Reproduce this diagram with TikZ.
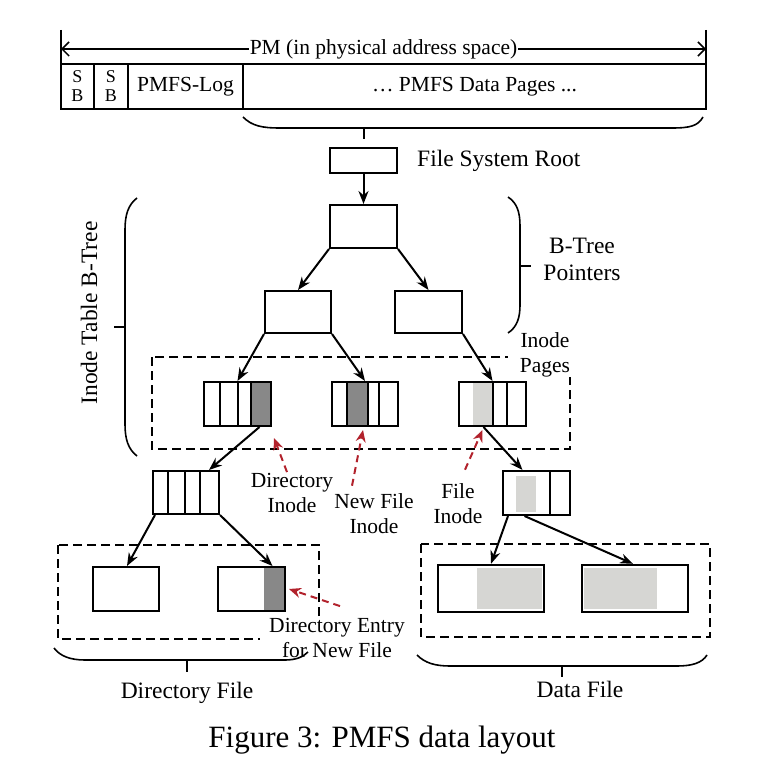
\documentclass[tikz,border=0pt]{standalone}
\usepackage{fontspec}
\setmainfont{Liberation Serif}
\usetikzlibrary{arrows.meta,positioning,calc}
\definecolor{pmred}{RGB}{178,34,44}
\definecolor{darkcell}{RGB}{136,136,136}
\definecolor{lightcell}{RGB}{214,214,211}
\tikzset{
  blk/.style={draw, line width=2pt, inner sep=0pt, minimum width=67pt, minimum height=44pt},
  cell/.style={draw, line width=2pt, inner sep=0pt, minimum height=45pt, font=\fontsize{21.5}{25}\selectfont},
  ptr/.style={-{Stealth[length=13pt,width=10pt]}, line width=2pt},
  hint/.style={-{Stealth[length=12pt,width=10pt]}, line width=2pt, pmred, dash pattern=on 7pt off 5pt},
  region/.style={draw, line width=2pt, dash pattern=on 9pt off 5pt},
  brace/.style={line width=1.6pt},
  txt/.style={font=\fontsize{21.5}{25}\selectfont, align=center, inner sep=1pt},
  bigtxt/.style={font=\fontsize{23.5}{27}\selectfont, align=center, inner sep=1pt}
}
\begin{document}
\begin{tikzpicture}[x=1pt,y=-1pt]
  \useasboundingbox (0,0) rectangle (784,770);

  % dashed regions and the labels that sit on them
  \draw[region] (152,357) rectangle (570,449);
  \draw[region] (58,545) rectangle (319,639);
  \draw[region] (421,544) rectangle (710,637);
  \node[txt, fill=white, inner xsep=12pt, inner ysep=0pt] (pageslbl) at (545,355) {Inode\\Pages};
  \node[txt, fill=white, inner xsep=9pt, inner ysep=1pt] (entrylbl) at (337,638) {Directory Entry\\for New File};

  % PM in physical address space
  \draw[line width=1.5pt] (61,30) -- (61,64);
  \draw[line width=1.5pt] (706,30) -- (706,64);
  \coordinate (pmL) at (61,49);
  \coordinate (pmR) at (706,49);
  \draw[line width=1.5pt, {Straight Barb[length=7pt,width=14pt]}-{Straight Barb[length=7pt,width=14pt]}] (pmL) -- (pmR)
    node[midway, txt, fill=white, inner xsep=1pt] {PM (in physical address space)};
  \node[cell, minimum width=33pt, font=\fontsize{18}{19}\selectfont, align=center] (sb1) at (77.5,86.5) {S\\B};
  \node[cell, minimum width=34pt, font=\fontsize{18}{19}\selectfont, align=center] (sb2) at (111,86.5) {S\\B};
  \node[cell, minimum width=115pt] (log) at (185.5,86.5) {PMFS-Log};
  \node[cell, minimum width=463pt] (pages) at (474.5,86.5) {… PMFS Data Pages ...};
  \draw[brace] (243,117) .. controls (252,126) and (262,128) .. (280,128) -- (672,128) .. controls (690,128) and (698,126) .. (703,117);
  \draw[brace] (364,128) -- (364,139);

  % b-tree pointers
  \node[blk, minimum height=25pt] (root) at (363.5,160.5) {};
  \node[bigtxt, right=18pt of root] (rootlbl) {File System Root};
  \node[blk, minimum height=43pt] (bt) at (363.5,226.5) {};
  \node[blk, minimum width=66pt, minimum height=42pt] (bl) at (298,312) {};
  \node[blk, minimum height=42pt] (br) at (428.5,312) {};
  \draw[ptr] (root.south) -- (bt.north);
  \draw[ptr] (bt.south west) -- (bl.north);
  \draw[ptr] (bt.south east) -- (br.north);
  \draw[brace] (508,197) .. controls (517,203) and (520,212) .. (520,226) -- (520,305) .. controls (520,318) and (517,327) .. (508,333);
  \draw[brace] (520,266) -- (531,266);
  \node[bigtxt] (btreelbl) at (582,259.5) {B-Tree\\Pointers};
  \draw[brace] (137,198) .. controls (128,205) and (125,215) .. (125,230) -- (125,424) .. controls (125,439) and (128,449) .. (137,456);
  \draw[brace] (125,327) -- (114,327);
  \node[bigtxt, rotate=90] (itlbl) at (89,313) {Inode Table B-Tree};

  % inode pages
  \fill[darkcell] (251,382) rectangle (271,426);
  \fill[darkcell] (347,382) rectangle (368,426);
  \fill[lightcell] (473,382) rectangle (493,426);
  \node[blk] (p1) at (237.5,404) {};
  \node[blk, minimum width=66pt] (p2) at (365,404) {};
  \node[blk] (p3) at (492.5,404) {};
  \foreach \x in {220,238,251,347,368,379,493,507}
    \draw[line width=1.8pt] (\x,382) -- (\x,426);
  \draw[ptr] (bl.south west) -- (p1.north);
  \draw[ptr] (bl.south east) -- (p2.north);
  \draw[ptr] (br.south east) -- (p3.north);

  % directory and file inodes
  \fill[lightcell] (516,476) rectangle (536,512);
  \node[blk, minimum width=66pt, minimum height=43pt] (db) at (186,492.5) {};
  \node[blk] (fb) at (536.5,493) {};
  \foreach \x in {168,185,200}
    \draw[line width=1.8pt] (\x,471) -- (\x,514);
  \draw[line width=1.8pt] (550,471) -- (550,515);
  \draw[ptr] ($(p1.south)+(22,0)$) -- ($(db.north)+(23,0)$);
  \draw[ptr] ($(p3.south)+(-9,0)$) -- ($(fb.north)+(-14,0)$);

  % directory file and data file
  \fill[darkcell] (264,567) rectangle (285,611);
  \fill[lightcell] (477,568) rectangle (542,609);
  \fill[lightcell] (584,568) rectangle (657,609);
  \node[blk, minimum width=66pt] (da) at (126,589) {};
  \node[blk] (dbx) at (251.5,589) {};
  \node[blk, minimum width=106pt, minimum height=47pt, line width=2.4pt] (dc) at (491,588.5) {};
  \node[blk, minimum width=106pt, minimum height=47pt, line width=2.4pt] (dd) at (635,588.5) {};
  \draw[ptr] ($(db.south west)+(3,0)$) -- ($(da.north)+(1,0)$);
  \draw[ptr] (db.south east) -- ($(dbx.north)+(21,0)$);
  \draw[ptr] ($(fb.south west)+(6,0)$) -- (dc.north);
  \draw[ptr] ($(fb.south)+(-12,0)$) -- ($(dd.north)+(-2,0)$);

  % red hints
  \node[txt] (dirlbl) at (292,493) {Directory\\Inode};
  \node[txt] (newlbl) at (374,514) {New File\\Inode};
  \node[txt] (filelbl) at (458,504) {File\\Inode};
  \draw[hint] ($(dirlbl.north)+(-5,0)$) -- ($(p1.south east)+(2,11)$);
  \draw[hint] ($(newlbl.north)+(-22,-7)$) -- ($(p2.south)+(-2,3)$);
  \draw[hint] ($(filelbl.north)+(7,-13)$) -- ($(p3.south)+(-10,3)$);
  \draw[hint] ($(entrylbl.north)+(3,-11)$) -- ($(dbx.east)+(3,0)$);

  % bottom braces
  \draw[brace] (54,648) .. controls (60,656) and (70,660) .. (85,660) -- (285,660) .. controls (296,660) and (303,657) .. (308,652);
  \draw[brace] (187,660) -- (187,672);
  \node[bigtxt] (dirfile) at (187,693) {Directory File};
  \draw[brace] (417,655) .. controls (425,663) and (435,666) .. (450,666) -- (677,666) .. controls (692,666) and (702,663) .. (707,655);
  \draw[brace] (562,666) -- (562,677);
  \node[bigtxt] (datafile) at (580,689) {Data File};

  \node[font=\fontsize{31}{36}\selectfont] (caption) at (382,740) {Figure 3: PMFS data layout};
\end{tikzpicture}
\end{document}
